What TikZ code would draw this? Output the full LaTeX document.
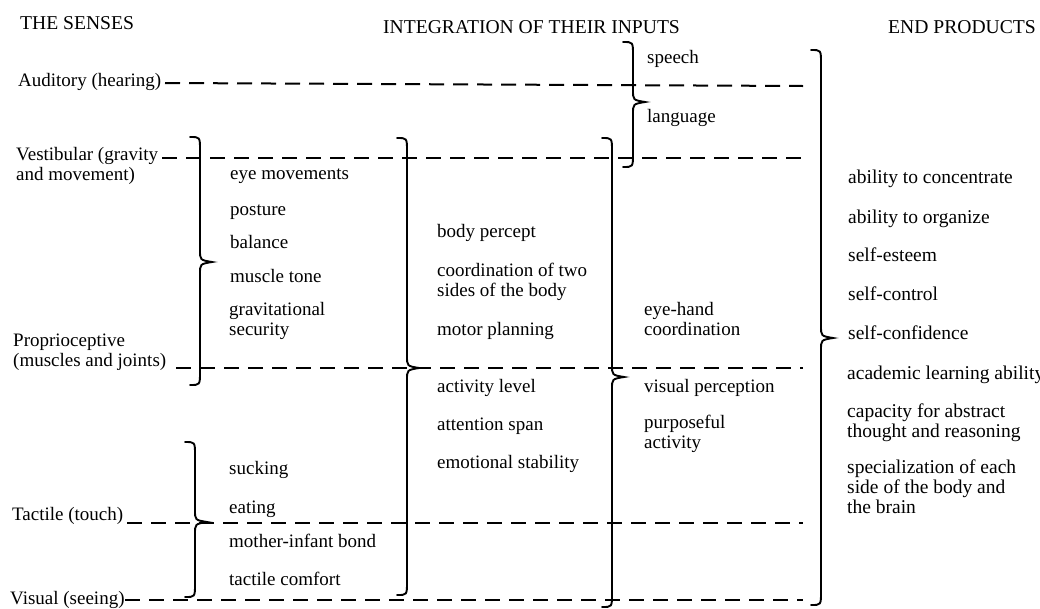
\documentclass[tikz,border=0pt]{standalone}
\usepackage{fontspec}
\setmainfont{Liberation Serif}
\begin{document}
\begin{tikzpicture}[x=1pt,y=-1pt,
  txt/.style={inner sep=0pt,anchor=base west,align=left,font=\fontsize{19}{20}\selectfont},
  rtxt/.style={txt,font=\fontsize{19.5}{20}\selectfont},
  head/.style={txt,font=\fontsize{19.6}{20}\selectfont},
  lead/.style={line width=2pt,dash pattern=on 15pt off 9pt},
  brc/.style={line width=1.9pt,line cap=round}]
\useasboundingbox (0,0) rectangle (1040,608);
\newcommand\mybrace[4]{%
  \draw[brc] (#1-10,#2) .. controls (#1,#2) .. (#1,#2+13) -- (#1,#3-12)
    .. controls (#1,#3-2) .. (#1+12,#3) .. controls (#1,#3+2) .. (#1,#3+12)
    -- (#1,#4-13) .. controls (#1,#4) .. (#1-10,#4);}
% headers
\node[head] (h1) at (20,29) {THE SENSES};
\node[head] (h2) at (383,33) {INTEGRATION OF THEIR INPUTS};
\node[head] (h3) at (888,33) {END PRODUCTS};
% senses
\node[txt] (aud) at (18,86) {Auditory (hearing)};
\node[txt] (ves) at (16,180) {Vestibular (gravity\\and movement)};
\node[txt] (pro) at (13,366) {Proprioceptive\\(muscles and joints)};
\node[txt] (tac) at (12,520) {Tactile (touch)};
\node[txt] (vis) at (10,604) {Visual (seeing)};
% dashed leader lines
\draw[lead] (165,83) -- (803,86);
\draw[lead] (162,157.5) -- (803,157.5);
\draw[lead] (176,367.5) -- (803,367.5);
\draw[lead] (127,522.5) -- (803,522.5);
\draw[lead] (125,600) -- (803,600);
% braces
\mybrace{200}{137}{262}{385}
\mybrace{195}{442}{522}{597}
\mybrace{407}{138}{368}{595}
\mybrace{612}{138}{377}{607}
\mybrace{633}{42}{102}{167}
\mybrace{821}{50}{338}{605}
% column 1
\node[txt] (c1a) at (230,179) {eye movements};
\node[txt] (c1b) at (230,215) {posture};
\node[txt] (c1c) at (230,248) {balance};
\node[txt] (c1d) at (230,282) {muscle tone};
\node[txt] (c1e) at (229,335) {gravitational\\security};
\node[txt] (c1f) at (229,474) {sucking};
\node[txt] (c1g) at (229,513) {eating};
\node[txt] (c1h) at (229,547) {mother-infant bond};
\node[txt] (c1i) at (229,585) {tactile comfort};
% column 2
\node[txt] (c2a) at (437,237) {body percept};
\node[txt] (c2b) at (437,296) {coordination of two\\sides of the body};
\node[txt] (c2c) at (437,335) {motor planning};
\node[txt] (c2d) at (437,392) {activity level};
\node[txt] (c2e) at (437,430) {attention span};
\node[txt] (c2f) at (437,468) {emotional stability};
% column 3
\node[txt] (c3a) at (647,63) {speech};
\node[txt] (c3b) at (647,122) {language};
\node[txt] (c3c) at (644,335) {eye-hand\\coordination};
\node[txt] (c3d) at (644,392) {visual perception};
\node[txt] (c3e) at (644,448) {purposeful\\activity};
% end products
\node[rtxt] (e1) at (848,183) {ability to concentrate};
\node[rtxt] (e2) at (848,223) {ability to organize};
\node[rtxt] (e3) at (848,261) {self-esteem};
\node[rtxt] (e4) at (848,300) {self-control};
\node[rtxt] (e5) at (848,339) {self-confidence};
\node[rtxt] (e6) at (847,379) {academic learning ability};
\node[rtxt] (e7) at (847,437) {capacity for abstract\\thought and reasoning};
\node[rtxt] (e8) at (847,513) {specialization of each\\side of the body and\\the brain};
\end{tikzpicture}
\end{document}
